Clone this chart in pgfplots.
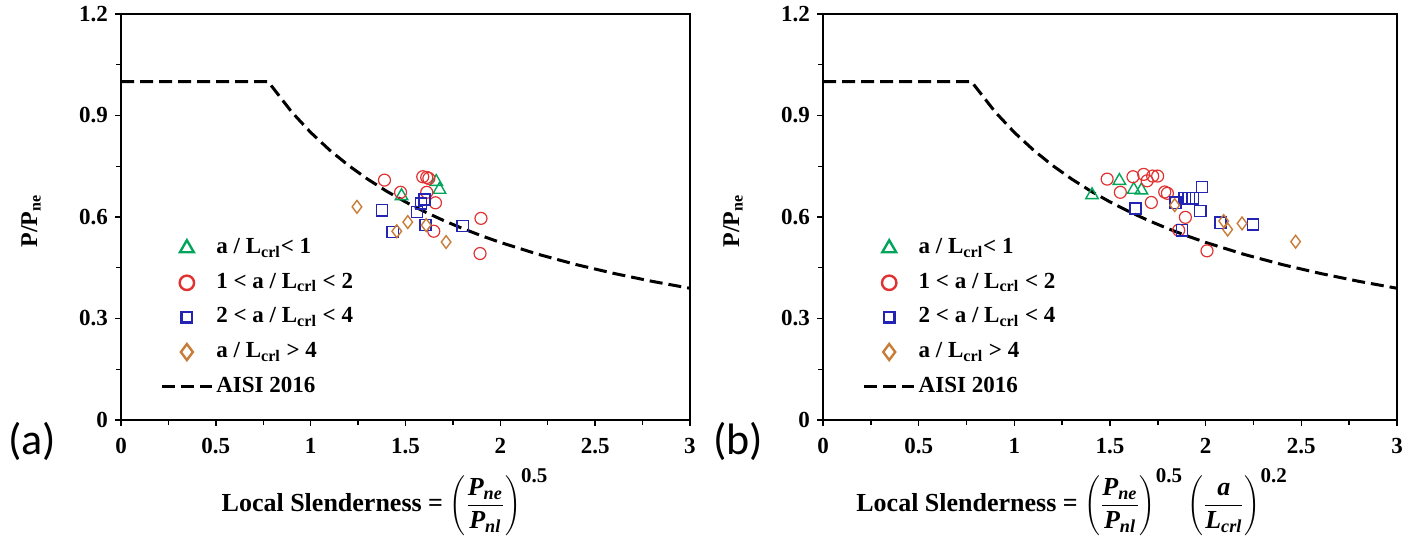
\documentclass[border=0pt]{standalone}
\usepackage{pgfplots}
\pgfplotsset{compat=1.18}
\usepackage{fontspec}
\setmainfont{Liberation Serif}
\newfontfamily\calib{Carlito}
\definecolor{cgreen}{RGB}{0,165,90}
\definecolor{cred}{RGB}{225,50,50}
\definecolor{cblue}{RGB}{35,35,180}
\definecolor{corange}{RGB}{200,125,55}
\pgfplotsset{
  mleg/.style={legend image code/.code={\draw[mark repeat=2,mark phase=2,##1] plot coordinates {(0pt,0pt)(12.5pt,0pt)(25pt,0pt)};}},
  lleg/.style={legend image code/.code={\draw[##1] (0pt,0pt) -- (25pt,0pt);}},
  myaxis/.style={
    scale only axis, height=203pt,
    xmin=0, xmax=3, ymin=0, ymax=1.2,
    xtick={0,0.5,1,1.5,2,2.5,3}, ytick={0,0.3,0.6,0.9,1.2},
    minor x tick num=1, minor y tick num=1,
    tick align=outside, xtick pos=bottom, ytick pos=left,
    major tick length=3pt, minor tick length=2.5pt,
    axis line style={line width=0.8pt},
    every tick/.style={black, line width=0.7pt},
    /pgf/number format/assume math mode=true,
    ticklabel style={font=\bfseries\fontsize{11.5}{13}\selectfont},
    xticklabel style={yshift=-2.5pt},
    ylabel={\bfseries\fontsize{12}{14}\selectfont P/P\textsubscript{ne}},
    ylabel style={at={(axis description cs:0,0.49)}, anchor=center, yshift=45pt},
    legend cell align=left,
    legend style={draw=none, fill=none, at={(axis description cs:0.0685,0.45)}, anchor=north west,
      font=\bfseries\fontsize{11.5}{13}\selectfont, inner sep=0pt, row sep=6.8pt,
      nodes={inner xsep=1.5pt, inner ysep=0pt, text height=8pt, text depth=2.5pt}},
  },
  ptri/.style={only marks, mark=triangle, mark size=3.6pt, cgreen, mark options={line width=0.7pt}},
  pcir/.style={only marks, mark=o, mark size=3pt, cred, mark options={line width=0.6pt}},
  psq/.style={only marks, mark=square, mark size=2.8pt, cblue, mark options={line width=0.7pt}},
  pdia/.style={only marks, mark=diamond, mark size=3.2pt, corange, mark options={line width=0.7pt}},
  aisi/.style={black, line width=1.5pt, dash pattern=on 6.5pt off 3pt},
}
\pgfplotstableread{
x y
0 1
0.776 1
0.9 0.9104
1.0 0.85
1.1 0.7978
1.2 0.7522
1.3 0.7121
1.4 0.6764
1.5 0.6446
1.6 0.6159
1.7 0.5899
1.8 0.5663
1.9 0.5447
2.0 0.5249
2.2 0.4897
2.4 0.4594
2.6 0.4331
2.8 0.4099
3.0 0.3894
}\aisicurve
\newcommand{\legs}{%
  \addlegendimage{mleg, only marks, mark=triangle, mark size=4pt, cgreen, line width=1.2pt}
  \addlegendentry{a / L\textsubscript{crl}< 1}
  \addlegendimage{mleg, only marks, mark=o, mark size=3.6pt, cred, line width=1.2pt}
  \addlegendentry{1 < a / L\textsubscript{crl} < 2}
  \addlegendimage{mleg, only marks, mark=square, mark size=2.6pt, cblue, line width=1.2pt}
  \addlegendentry{2 < a / L\textsubscript{crl} < 4}
  \addlegendimage{mleg, only marks, mark=diamond, mark size=4pt, corange, line width=1.2pt}
  \addlegendentry{a / L\textsubscript{crl} > 4}
  \addlegendimage{lleg, aisi}
  \addlegendentry{AISI 2016}
}
\newcommand{\Pne}{\mbox{\bfseries\itshape P\textsubscript{ne}}}
\newcommand{\Pnl}{\mbox{\bfseries\itshape P\textsubscript{nl}}}
\begin{document}
\begin{tikzpicture}[x=1pt,y=1pt]
\useasboundingbox (0,0) rectangle (709.5,269);
% ---------- panel (a)
\begin{axis}[myaxis, width=284.5pt, at={(60.5pt,59pt)}, anchor=south west,
  xlabel={\bfseries\fontsize{13}{15}\selectfont Local Slenderness = $\displaystyle\left(\frac{\Pne}{\Pnl}\right)^{\mbox{\bfseries\fontsize{10.5}{12}\selectfont 0.5}}$},
  xlabel style={at={(axis description cs:0.464,0)}, anchor=center, yshift=-41pt}]
\legs
\addplot[aisi, forget plot] table {\aisicurve};
\addplot[ptri, forget plot] coordinates {(1.662,0.704) (1.679,0.681) (1.479,0.662)};
\addplot[pcir, forget plot] coordinates {(1.389,0.709) (1.474,0.673) (1.591,0.719) (1.612,0.717) (1.623,0.714) (1.612,0.673) (1.658,0.642) (1.898,0.596) (1.649,0.558) (1.893,0.492)};
\addplot[psq, forget plot] coordinates {(1.377,0.620) (1.582,0.640) (1.600,0.652) (1.560,0.615) (1.433,0.556) (1.605,0.576) (1.802,0.573)};
\addplot[pdia, forget plot] coordinates {(1.244,0.630) (1.512,0.585) (1.454,0.558) (1.714,0.526) (1.609,0.576)};
\end{axis}
% ---------- panel (b)
\begin{axis}[myaxis, width=287pt, at={(411.5pt,59pt)}, anchor=south west,
  xlabel={\bfseries\fontsize{13}{15}\selectfont Local Slenderness = $\displaystyle\left(\frac{\Pne}{\Pnl}\right)^{\mbox{\bfseries\fontsize{10.5}{12}\selectfont 0.5}}\left(\frac{\mbox{\bfseries\itshape a}}{\mbox{\bfseries\itshape L\textsubscript{crl}}}\right)^{\mbox{\bfseries\fontsize{10.5}{12}\selectfont 0.2}}$},
  xlabel style={at={(axis description cs:0.434,0)}, anchor=center, yshift=-41pt}]
\legs
\addplot[aisi, forget plot] table {\aisicurve};
\addplot[ptri, forget plot] coordinates {(1.406,0.665) (1.549,0.707) (1.624,0.681) (1.664,0.679)};
\addplot[pcir, forget plot] coordinates {(1.485,0.712) (1.620,0.719) (1.676,0.726) (1.694,0.707) (1.723,0.721) (1.749,0.721) (1.554,0.673) (1.716,0.643) (1.786,0.674) (1.800,0.670) (1.894,0.599) (1.859,0.561) (2.007,0.500)};
\addplot[psq, forget plot] coordinates {(1.633,0.625) (1.842,0.642) (1.890,0.655) (1.911,0.655) (1.932,0.655) (1.981,0.689) (1.972,0.618) (1.877,0.561) (2.077,0.583) (2.247,0.578)};
\addplot[pdia, forget plot] coordinates {(1.838,0.635) (2.094,0.588) (2.115,0.563) (2.190,0.581) (2.470,0.527)};
\end{axis}
\node[font=\calib\fontsize{22}{24}\selectfont] at (16,48.5) {(a)};
\node[font=\calib\fontsize{22}{24}\selectfont] at (369,48.5) {(b)};
\end{tikzpicture}
\end{document}
